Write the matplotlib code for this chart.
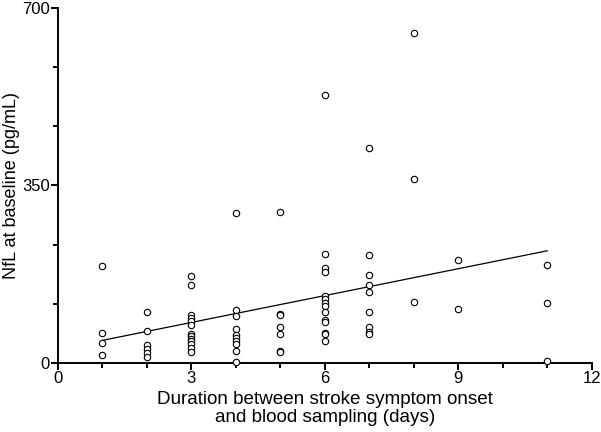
import numpy as np
import matplotlib
matplotlib.use("Agg")
import matplotlib.pyplot as plt
from matplotlib.ticker import MultipleLocator

plt.rcParams['font.family'] = ['Liberation Sans', 'DejaVu Sans']

# Data: NfL values grouped by days since symptom onset
days = [1, 2, 3, 4, 5, 6, 7, 8, 9, 11]
nfl_by_day = [
    [191, 59, 39, 16],
    [100, 63, 36, 27, 19, 12],
    [172, 153, 95, 89, 83, 75, 58, 53, 48, 43, 37, 30, 22],
    [296, 105, 92, 68, 55, 49, 43, 37, 24, 2],
    [298, 96, 94, 70, 57, 24, 22],
    [529, 214, 187, 179, 133, 126, 119, 112, 101, 85, 81, 60, 58, 44],
    [424, 212, 174, 153, 139, 101, 70, 62, 58],
    [651, 363, 120],
    [203, 107],
    [193, 118, 3],
]
x_ticks = [0, 3, 6, 9, 12]
y_ticks = [0, 350, 700]

x = np.concatenate([[d] * len(v) for d, v in zip(days, nfl_by_day)]).astype(float)
y = np.concatenate(nfl_by_day).astype(float)

fig = plt.figure(figsize=(6.01, 4.32), dpi=100)
ax = fig.add_axes([0.0965, 0.1597, 0.888, 0.822])

ax.plot(x, y, linestyle='none', marker='o', markersize=4.6, markerfacecolor='white',
        markeredgecolor='black', markeredgewidth=0.8, clip_on=False, zorder=3)

slope, intercept = np.polyfit(x, y, 1)
xf = np.array([x.min(), x.max()])
ax.plot(xf, slope * xf + intercept, color='black', linewidth=0.9, zorder=2)

ax.set_xlim(0, 12)
ax.set_ylim(0, 700)
ax.set_xticks(x_ticks)
ax.set_yticks(y_ticks)
ax.xaxis.set_minor_locator(MultipleLocator(1))
ax.yaxis.set_minor_locator(MultipleLocator(700 / 6))

for s in ['top', 'right']:
    ax.spines[s].set_visible(False)
for s in ['left', 'bottom']:
    ax.spines[s].set_linewidth(1.4)

ax.tick_params(which='major', direction='out', length=5, width=1.4, labelsize=12, pad=1)
ax.tick_params(which='minor', direction='out', length=3.5, width=1.4)

ax.set_xlabel('Duration between stroke symptom onset\nand blood sampling (days)', fontsize=13.6,
              labelpad=3, linespacing=1.1)
ax.set_ylabel('NfL at baseline (pg/mL)', fontsize=13, va='center')
ax.yaxis.set_label_coords(-0.088, 0.5)

fig.savefig('out.png', dpi=100)
